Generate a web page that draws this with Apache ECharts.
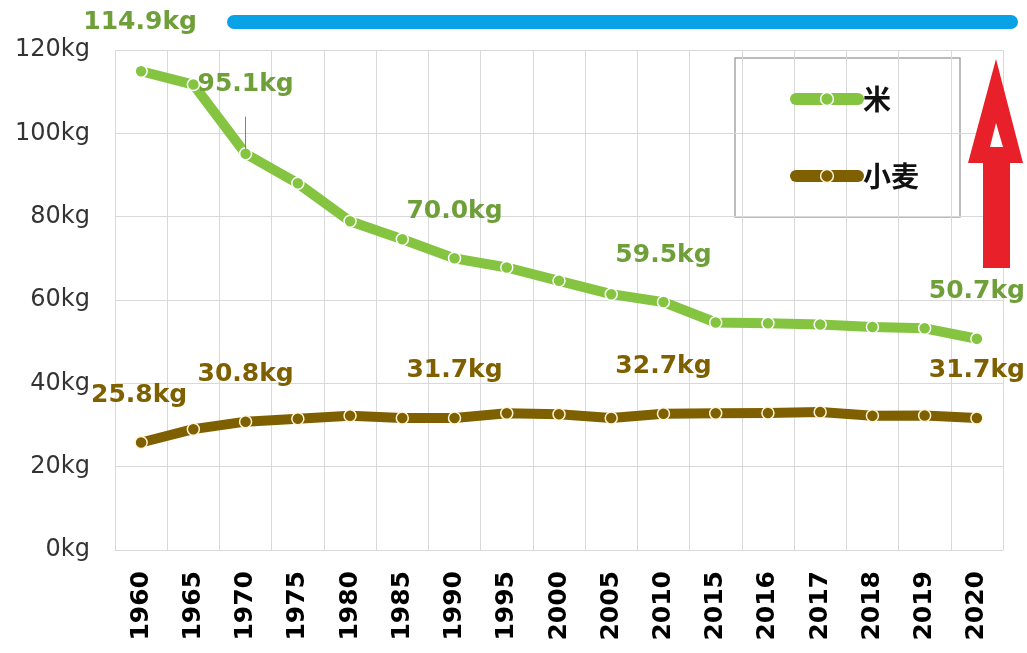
<!DOCTYPE html>
<html><head><meta charset="utf-8">
<script src="https://cdn.jsdelivr.net/npm/echarts@6/dist/echarts.min.js"></script>
<style>html,body{margin:0;padding:0;background:#fff;}#c{width:1027px;height:653px;}</style>
</head><body><div id="c"></div>
<script>
const years = ['1960','1965','1970','1975','1980','1985','1990','1995','2000','2005','2010','2015','2016','2017','2018','2019','2020'];
const rice = [114.9,111.7,95.1,88.0,78.9,74.6,70.0,67.8,64.6,61.4,59.5,54.6,54.4,54.1,53.5,53.2,50.7];
const wheat = [25.8,29.0,30.8,31.5,32.2,31.7,31.7,32.8,32.6,31.7,32.7,32.8,32.9,33.1,32.2,32.3,31.7];
const labeledYears = ['1960','1970','1990','2010','2020'];
const yTicks = [0,20,40,60,80,100,120];
const leader = [104, 96.2];

const FONT = "'DejaVu Sans', Verdana, sans-serif";
const CJK = "'Noto Sans CJK JP', sans-serif";
const RICE = '#84C441', RICE_LBL = '#6E9F38', WHEAT = '#7F6000', WHEAT_LBL = '#7F6000';

function mkData(vals, color, special) {
  return vals.map((v, i) => {
    const show = labeledYears.indexOf(years[i]) >= 0;
    const off = (special && special[years[i]]) || [0, -47];
    return {
      value: v,
      label: {
        show: show, position: 'inside', offset: off,
        formatter: p => p.value.toFixed(1) + 'kg',
        color: color, fontFamily: FONT, fontWeight: 'bold', fontSize: 25
      }
    };
  });
}

const chart = echarts.init(document.getElementById('c'), null, {renderer: 'canvas'});
chart.setOption({
  animation: false,
  backgroundColor: '#fff',
  grid: {left: 115, right: 24, top: 50, bottom: 103},
  xAxis: {
    type: 'category', data: years, boundaryGap: true,
    axisLine: {show: true, lineStyle: {color: '#D9D9D9', width: 1}},
    axisTick: {show: false},
    splitLine: {show: true, interval: 0, lineStyle: {color: '#D9D9D9', width: 1}},
    axisLabel: {rotate: 90, interval: 0, margin: 21, color: '#000', fontFamily: FONT, fontWeight: 'bold', fontSize: 25}
  },
  yAxis: {
    type: 'value', min: yTicks[0], max: yTicks[yTicks.length - 1], interval: 20,
    axisLine: {show: false}, axisTick: {show: false},
    splitLine: {show: true, lineStyle: {color: '#D9D9D9', width: 1}},
    axisLabel: {formatter: '{value}kg', margin: 25, color: '#333', fontFamily: FONT, fontSize: 24}
  },
  legend: {
    orient: 'vertical', left: 785, top: 79, itemWidth: 62, itemHeight: 16, itemGap: 47,
    lineStyle: {width: 12},
    itemStyle: {borderWidth: 1.5},
    textStyle: {color: '#111', fontFamily: CJK, fontWeight: 'bold', fontSize: 28, lineHeight: 30},
    data: ['米', '小麦']
  },
  series: [
    {
      name: '米', type: 'line', data: mkData(rice, RICE_LBL, {'1960': [-1, -49], '1970': [0, -69]}),
      lineStyle: {color: RICE, width: 10, cap: 'round', join: 'round'},
      itemStyle: {color: RICE, borderColor: '#fff', borderWidth: 1.5},
      symbol: 'circle', symbolSize: 12, z: 3,
      markLine: {
        silent: true, symbol: 'none', label: {show: false},
        lineStyle: {color: '#808080', width: 1, type: 'solid'},
        data: [[{coord: ['1970', leader[0]]}, {coord: ['1970', leader[1]]}]]
      }
    },
    {
      name: '小麦', type: 'line', data: mkData(wheat, WHEAT_LBL, {'1960': [-2, -47]}),
      lineStyle: {color: WHEAT, width: 10, cap: 'round', join: 'round'},
      itemStyle: {color: WHEAT, borderColor: '#FFF6D8', borderWidth: 1.5},
      symbol: 'circle', symbolSize: 12, z: 3
    }
  ],
  graphic: [
    {type: 'line', shape: {x1: 234, y1: 22, x2: 1011, y2: 22}, style: {stroke: '#0AA2E6', lineWidth: 14, lineCap: 'round'}, z: 10},
    {type: 'rect', shape: {x: 735, y: 58, width: 225, height: 159}, style: {fill: '#fff', stroke: '#A6A6A6', lineWidth: 1.5}, z: 0, zlevel: 0},
    {type: 'polygon', shape: {points: [[996, 59], [1023, 163], [1010, 163], [1010, 268], [983, 268], [983, 163], [968, 163]]}, style: {fill: '#E8202A'}, z: 10},
    {type: 'polygon', shape: {points: [[996, 123], [1003, 147], [990, 147]]}, style: {fill: '#fff'}, z: 11}
  ]
});
</script></body></html>
